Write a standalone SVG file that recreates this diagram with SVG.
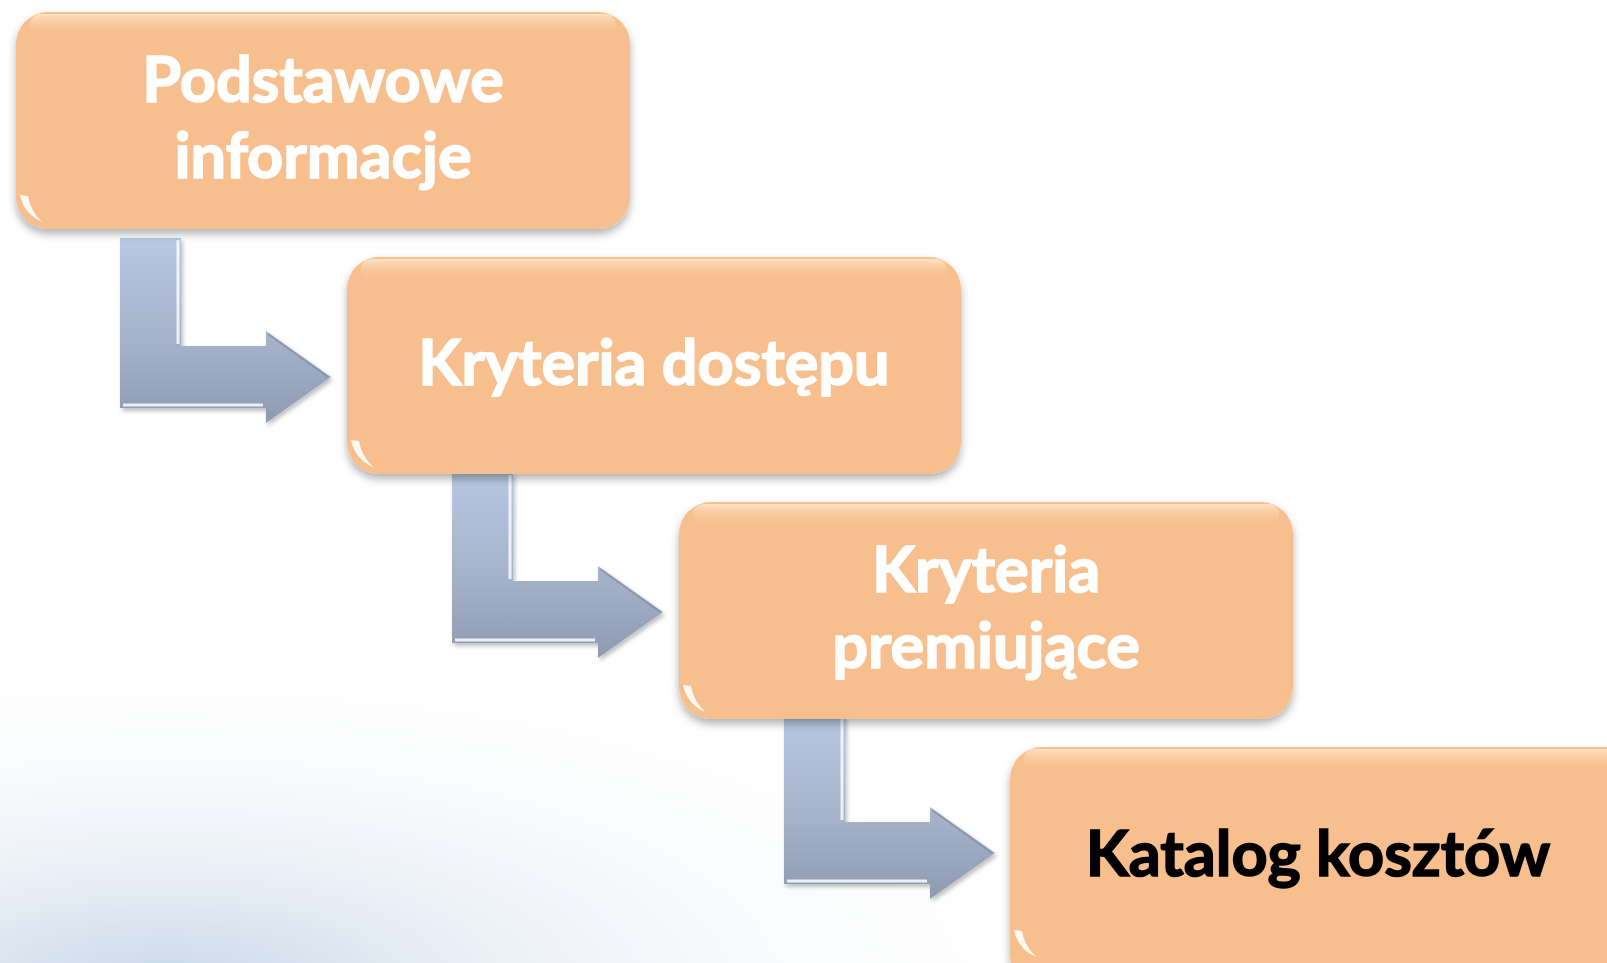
<svg xmlns="http://www.w3.org/2000/svg" width="1607" height="963" viewBox="0 0 1607 963">
<defs>
<radialGradient id="bg" cx="0.15" cy="1.05" r="0.9" gradientUnits="objectBoundingBox">
<stop offset="0" stop-color="#c8d7e8" stop-opacity="1"/>
<stop offset="0.35" stop-color="#e5ecf4" stop-opacity="0.75"/>
<stop offset="0.7" stop-color="#f5f8fb" stop-opacity="0.35"/>
<stop offset="1" stop-color="#ffffff" stop-opacity="0"/>
</radialGradient>
<linearGradient id="arrowGrad" x1="0" y1="0" x2="0" y2="1">
<stop offset="0" stop-color="#b8c8e2"/>
<stop offset="0.6" stop-color="#a3b0c8"/>
<stop offset="1" stop-color="#8e9ab0"/>
</linearGradient>
<linearGradient id="topHi" x1="0" y1="0" x2="0" y2="1">
<stop offset="0" stop-color="#fde2c4" stop-opacity="1"/>
<stop offset="1" stop-color="#f8bf8e" stop-opacity="0"/>
</linearGradient>
<filter id="shadow" x="-5%" y="-5%" width="110%" height="115%">
<feDropShadow dx="0" dy="5" stdDeviation="4" flood-color="#000" flood-opacity="0.3"/>
</filter>
<filter id="ashadow" x="-10%" y="-10%" width="130%" height="130%">
<feDropShadow dx="2" dy="3" stdDeviation="2" flood-color="#000" flood-opacity="0.25"/>
</filter>
</defs>
<style>
.box{fill:#f8bf8e;}
.hi{fill:url(#topHi);}
.glint{fill:#ffffff;opacity:0.9;}
.lbl{font-family:Lato,"Open Sans","Liberation Sans",sans-serif;font-weight:700;font-size:63px;text-anchor:middle;fill:#ffffff;stroke:#ffffff;stroke-width:1.6;}
.dark{fill:#000000;stroke:#000000;}
.arr{fill:url(#arrowGrad);}
.bev{fill:none;stroke:#f4f8ff;stroke-width:3;opacity:0.9;}
.bevd{fill:none;stroke:#7d889e;stroke-width:2;opacity:0.6;}
</style>
<rect width="1607" height="963" fill="#ffffff"/>
<rect x="0" y="560" width="1100" height="403" fill="url(#bg)"/>

<g id="connectors">
<g id="arrow1" filter="url(#ashadow)">
<path class="arr" d="M120,238 H181 V346 H266 V331 L331,377 L266,423 V408 H120 Z"/>
<path class="bev" d="M178,240 V344"/>
<path class="bev" d="M123,405 H263"/>
<path class="bevd" d="M268,334 L328,377"/>
</g>
<g id="arrow2" filter="url(#ashadow)" transform="translate(332,235)">
<path class="arr" d="M120,238 H181 V346 H266 V331 L331,377 L266,423 V408 H120 Z"/>
<path class="bev" d="M178,240 V344"/>
<path class="bev" d="M123,405 H263"/>
<path class="bevd" d="M268,334 L328,377"/>
</g>
<g id="arrow3" filter="url(#ashadow)" transform="translate(664,476)">
<path class="arr" d="M120,238 H181 V346 H266 V331 L331,377 L266,423 V408 H120 Z"/>
<path class="bev" d="M178,240 V344"/>
<path class="bev" d="M123,405 H263"/>
<path class="bevd" d="M268,334 L328,377"/>
</g>
</g>

<g id="node1">
<rect class="box" x="16" y="12" width="614" height="217" rx="32" filter="url(#shadow)"/>
<rect class="hi" x="30" y="14" width="586" height="22" rx="10"/>
<path class="glint" d="M20,195 Q24,214 42,222 Q30,210 28,196 Z"/>
<text class="lbl" x="323" y="102">Podstawowe</text>
<text class="lbl" x="323" y="178">informacje</text>
</g>

<g id="node2">
<rect class="box" x="347" y="257" width="614" height="217" rx="32" filter="url(#shadow)"/>
<rect class="hi" x="361" y="259" width="586" height="22" rx="10"/>
<path class="glint" d="M351,440 Q355,459 373,467 Q361,455 359,441 Z"/>
<text class="lbl" x="654" y="385">Kryteria dostępu</text>
</g>

<g id="node3">
<rect class="box" x="679" y="502" width="614" height="217" rx="32" filter="url(#shadow)"/>
<rect class="hi" x="693" y="504" width="586" height="22" rx="10"/>
<path class="glint" d="M683,685 Q687,704 705,712 Q693,700 691,686 Z"/>
<text class="lbl" x="986" y="592">Kryteria</text>
<text class="lbl" x="986" y="668">premiujące</text>
</g>

<g id="node4">
<rect class="box" x="1010" y="747" width="640" height="240" rx="32" filter="url(#shadow)"/>
<rect class="hi" x="1024" y="749" width="600" height="22" rx="10"/>
<path class="glint" d="M1014,930 Q1018,949 1036,957 Q1024,945 1022,931 Z"/>
<text class="lbl dark" x="1318" y="876">Katalog kosztów</text>
</g>
</svg>
